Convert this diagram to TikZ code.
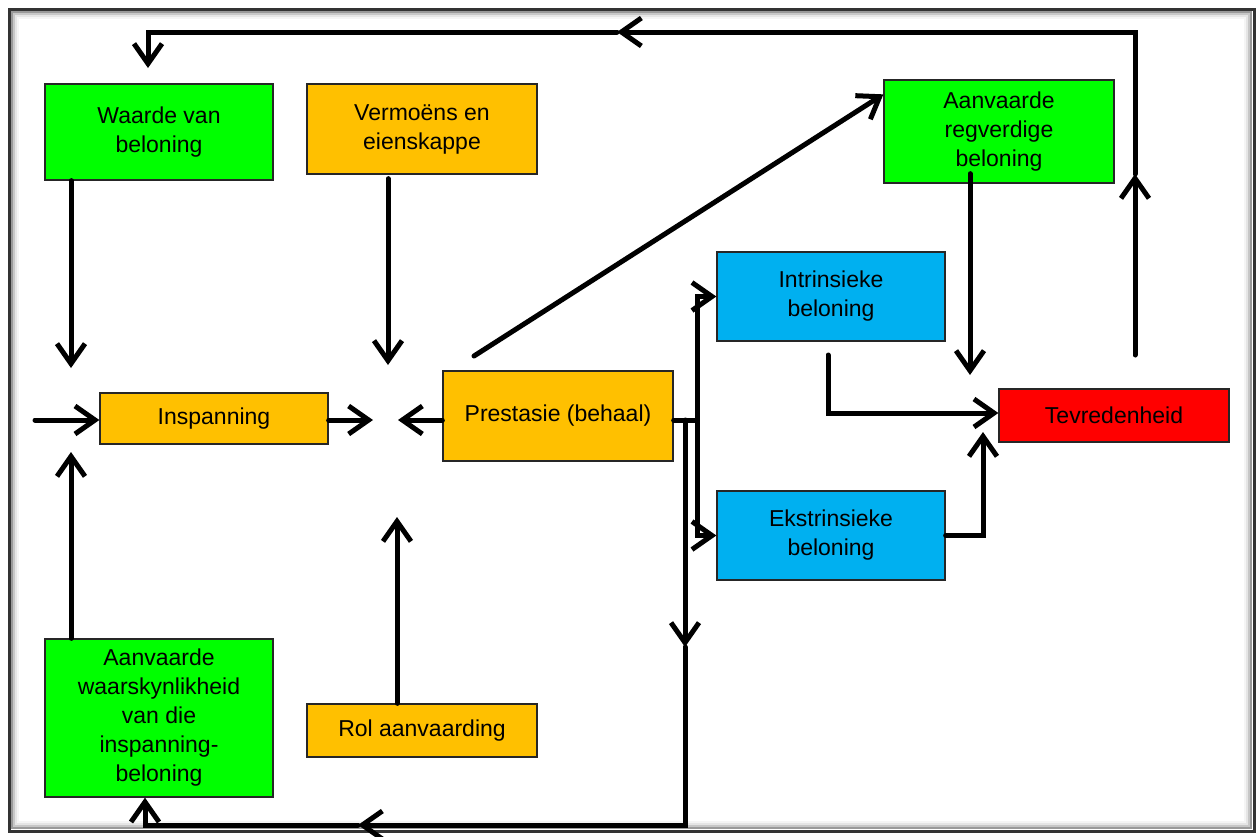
\documentclass[tikz,border=0pt]{standalone}
\usepackage{fontspec}
\setmainfont{Liberation Sans}
\usetikzlibrary{arrows.meta}
\definecolor{boxgreen}{HTML}{00FF00}
\definecolor{boxorange}{HTML}{FFC000}
\definecolor{boxblue}{HTML}{00B0F0}
\definecolor{boxred}{HTML}{FF0000}
\begin{document}
\begin{tikzpicture}[x=1pt,y=-1pt,
  box/.style={draw=black!85, line width=1.3pt, inner sep=0pt, align=center,
    font=\fontsize{23}{29}\selectfont},
  wire/.style={line width=5pt, line cap=round, black},
  arr/.style={wire, -{Straight Barb[length=20pt,width=28pt,line width=5pt]}},
]
\useasboundingbox (0,0) rectangle (1259,836);
% frame with inner shadow
\fill[white] (0,0) rectangle (1259,836);
\foreach \i/\c in {9/4,7/10,5/22,3/40}
  \draw[black!\c, line width=2.2pt] ({9+\i},{9+\i}) rectangle ({1254-\i},{831-\i});
\draw[black!80, line width=3pt] (9,9) rectangle (1254,831);

% boxes
\node[box, fill=boxgreen, minimum width=228pt, minimum height=96pt] (waarde) at (159,132) {Waarde van\\beloning};
\node[box, fill=boxorange, minimum width=230pt, minimum height=90pt] (vermoens) at (422,129) {Vermoëns en\\eienskappe};
\node[box, fill=boxgreen, minimum width=230pt, minimum height=103pt] (regverdig) at (999,131.5) {Aanvaarde\\regverdige\\beloning};
\node[box, fill=boxblue, minimum width=228pt, minimum height=89pt] (intrinsiek) at (831,296.5) {Intrinsieke\\beloning};
\node[box, fill=boxorange, minimum width=228pt, minimum height=51pt] (inspanning) at (214,418.5) {Inspanning};
\node[box, fill=boxorange, minimum width=230pt, minimum height=90pt] (prestasie) at (558,416) {Prestasie (behaal)};
\node[box, fill=boxred, minimum width=230pt, minimum height=53pt] (tevrede) at (1114,415.5) {Tevredenheid};
\node[box, fill=boxblue, minimum width=228pt, minimum height=89pt] (ekstrinsiek) at (831,535.5) {Ekstrinsieke\\beloning};
\node[box, fill=boxgreen, minimum width=228pt, minimum height=158pt] (waarskyn) at (159,718) {Aanvaarde\\waarskynlikheid\\van die\\inspanning-\\beloning};
\node[box, fill=boxorange, minimum width=230pt, minimum height=53pt] (rol) at (422,730.5) {Rol aanvaarding};

% free ends of connectors
\coordinate (tipW) at (71,368);
\coordinate (tipV) at (388,365);
\coordinate (inL) at (35,0);
\coordinate (gapL) at (373,0);
\coordinate (gapR) at (398,0);
\coordinate (tipA) at (71,452);
\coordinate (tipR) at (397,517);
\coordinate (diagS) at (474,356);
\coordinate (bA) at (697,0);
\coordinate (bB) at (685,0);
\coordinate (bMid) at (685,647);
\coordinate (bCorner) at (685,825);
\coordinate (bLeft) at (358,825);
\coordinate (iS) at (828,355);
\coordinate (rT) at (970,375);
\coordinate (eT) at (983,432);
\coordinate (tS) at (1135,355);
\coordinate (tM) at (1135,174);
\coordinate (tC) at (1135,32);
\coordinate (tL) at (617,32);
\coordinate (tW) at (148,32);
\coordinate (tE) at (148,68);

% left column and centre
\draw[arr] (waarde.south -| tipW) -- (tipW);
\draw[arr] ([yshift=-4pt]vermoens.south -| tipV) -- (tipV);
\draw[arr] ([yshift=-1.5pt]inspanning.west -| inL) -- ([yshift=-1.5pt]inspanning.west);
\draw[arr] ([yshift=-1.5pt]inspanning.east) -- ([yshift=-1.5pt]inspanning.east -| gapL);
\draw[arr] ([yshift=-4pt]prestasie.west) -- ([yshift=-4pt]prestasie.west -| gapR);
\draw[arr] (waarskyn.north -| tipA) -- (tipA);
\draw[arr] (rol.north -| tipR) -- (tipR);
\draw[arr] (diagS) -- ([yshift=-15pt]regverdig.north west);

% branches out of Prestasie
\draw[wire] ([yshift=-4pt]prestasie.east) -- ([yshift=-4pt]prestasie.east -| bA);
\draw[arr] ([yshift=-4pt]prestasie.east -| bA) |- (intrinsiek.west);
\draw[arr] ([yshift=-4pt]prestasie.east -| bA) |- (ekstrinsiek.west);
\draw[arr] ([yshift=-4pt]prestasie.east -| bB) -- (bMid);
\draw[arr] (bMid) -- (bCorner) -- (bLeft);
\draw[arr] (bLeft) -| ([xshift=-14pt]waarskyn.south);

% into Tevredenheid
\draw[arr] (iS) |- ([yshift=2.5pt]tevrede.west);
\path (regverdig.south -| rT) ++(0,-10) coordinate (rS);
\draw[arr] (rS) -- (rT);
\draw[arr] (ekstrinsiek.east) -| (eT);

% feedback loop along the top
\draw[arr] (tS) -- (tM);
\draw[arr] (tM) -- (tC) -- (tL);
\draw[arr] (tL) -- (tW) -- (tE);
\end{tikzpicture}
\end{document}
